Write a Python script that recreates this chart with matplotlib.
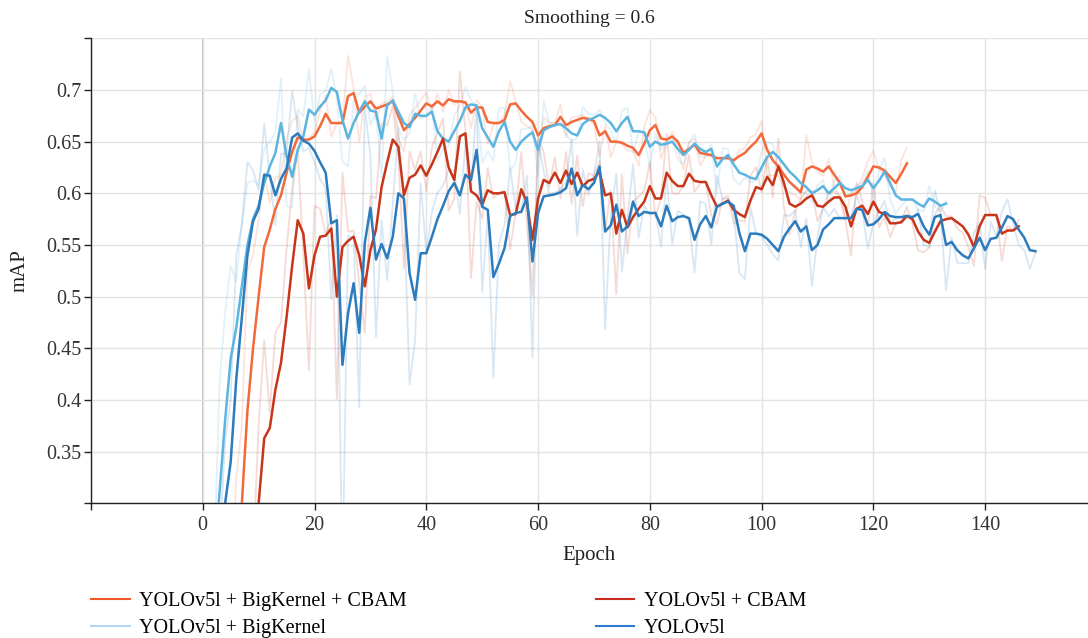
import numpy as np
import matplotlib
matplotlib.use("Agg")
import matplotlib.pyplot as plt
from matplotlib.lines import Line2D

SMOOTHING = 0.6

# smoothed mAP, one value per epoch
# (each list starts at the epoch given in *_start)
bk_cbam_start = 5
bk_cbam = [0.20, 0.25, 0.30, 0.39, 0.45, 0.50, 0.548, 0.565, 0.585, 0.598,
           0.620, 0.640, 0.654, 0.652, 0.652, 0.655, 0.665, 0.677, 0.668, 0.668,
           0.668, 0.694, 0.697, 0.678, 0.684, 0.689, 0.682, 0.684, 0.686, 0.689,
           0.675, 0.661, 0.667, 0.673, 0.680, 0.687, 0.684, 0.689, 0.685, 0.691,
           0.689, 0.689, 0.688, 0.678, 0.683, 0.683, 0.669, 0.668, 0.668, 0.671,
           0.686, 0.687, 0.680, 0.674, 0.669, 0.656, 0.663, 0.665, 0.666, 0.674,
           0.666, 0.669, 0.671, 0.673, 0.672, 0.670, 0.656, 0.660, 0.650, 0.650,
           0.649, 0.646, 0.644, 0.637, 0.648, 0.661, 0.666, 0.653, 0.652, 0.655,
           0.650, 0.639, 0.643, 0.647, 0.639, 0.638, 0.637, 0.634, 0.634, 0.634,
           0.632, 0.636, 0.639, 0.645, 0.650, 0.658, 0.642, 0.632, 0.626, 0.618,
           0.611, 0.606, 0.601, 0.623, 0.626, 0.624, 0.621, 0.626, 0.618, 0.610,
           0.597, 0.598, 0.600, 0.606, 0.616, 0.626, 0.625, 0.622, 0.616, 0.610,
           0.619, 0.629]

bk_start = 2
bk = [0.24, 0.31, 0.38, 0.44, 0.47, 0.51, 0.55, 0.575, 0.588, 0.610,
      0.626, 0.639, 0.668, 0.636, 0.616, 0.642, 0.655, 0.681, 0.676, 0.684,
      0.690, 0.702, 0.698, 0.671, 0.653, 0.668, 0.679, 0.689, 0.680, 0.679,
      0.653, 0.685, 0.690, 0.679, 0.668, 0.664, 0.677, 0.675, 0.675, 0.679,
      0.660, 0.653, 0.650, 0.660, 0.670, 0.683, 0.686, 0.685, 0.663, 0.654,
      0.645, 0.660, 0.669, 0.650, 0.642, 0.650, 0.655, 0.659, 0.642, 0.661,
      0.664, 0.666, 0.667, 0.663, 0.658, 0.656, 0.667, 0.671, 0.673, 0.676,
      0.673, 0.668, 0.660, 0.668, 0.674, 0.660, 0.660, 0.659, 0.645, 0.650,
      0.647, 0.648, 0.650, 0.643, 0.637, 0.642, 0.648, 0.643, 0.640, 0.643,
      0.626, 0.633, 0.637, 0.628, 0.620, 0.618, 0.615, 0.614, 0.625, 0.635,
      0.640, 0.635, 0.628, 0.621, 0.616, 0.610, 0.606, 0.600, 0.603, 0.607,
      0.600, 0.605, 0.610, 0.605, 0.603, 0.605, 0.607, 0.613, 0.605, 0.612,
      0.621, 0.610, 0.598, 0.594, 0.594, 0.594, 0.590, 0.587, 0.595, 0.592,
      0.588, 0.590]

cbam_start = 9
cbam = [0.25, 0.30, 0.363, 0.373, 0.41, 0.436, 0.48, 0.530, 0.574, 0.561,
        0.508, 0.540, 0.558, 0.559, 0.566, 0.500, 0.548, 0.554, 0.558, 0.540,
        0.510, 0.545, 0.565, 0.606, 0.630, 0.652, 0.645, 0.598, 0.615, 0.618,
        0.627, 0.617, 0.628, 0.640, 0.653, 0.625, 0.613, 0.655, 0.658, 0.602,
        0.598, 0.589, 0.603, 0.600, 0.600, 0.601, 0.579, 0.580, 0.604, 0.591,
        0.555, 0.595, 0.613, 0.610, 0.620, 0.610, 0.622, 0.609, 0.620, 0.607,
        0.612, 0.614, 0.621, 0.598, 0.600, 0.561, 0.584, 0.567, 0.577, 0.585,
        0.592, 0.607, 0.595, 0.595, 0.620, 0.612, 0.607, 0.607, 0.619, 0.612,
        0.611, 0.611, 0.598, 0.587, 0.590, 0.593, 0.584, 0.580, 0.577, 0.593,
        0.606, 0.604, 0.616, 0.608, 0.626, 0.610, 0.590, 0.587, 0.590, 0.595,
        0.598, 0.588, 0.587, 0.592, 0.596, 0.596, 0.587, 0.568, 0.585, 0.588,
        0.580, 0.592, 0.582, 0.580, 0.571, 0.571, 0.572, 0.578, 0.575, 0.563,
        0.555, 0.552, 0.563, 0.573, 0.575, 0.576, 0.572, 0.568, 0.560, 0.548,
        0.568, 0.579, 0.579, 0.579, 0.561, 0.564, 0.564, 0.568]

base_start = 3
base = [0.26, 0.30, 0.34, 0.42, 0.48, 0.54, 0.573, 0.585, 0.618, 0.617,
        0.598, 0.614, 0.624, 0.654, 0.658, 0.651, 0.648, 0.641, 0.630, 0.620,
        0.571, 0.574, 0.434, 0.484, 0.513, 0.465, 0.552, 0.586, 0.536, 0.551,
        0.537, 0.558, 0.600, 0.595, 0.523, 0.497, 0.542, 0.542, 0.558, 0.575,
        0.588, 0.602, 0.610, 0.598, 0.618, 0.613, 0.642, 0.587, 0.584, 0.519,
        0.532, 0.547, 0.578, 0.581, 0.582, 0.596, 0.534, 0.581, 0.597, 0.598,
        0.599, 0.601, 0.605, 0.624, 0.598, 0.608, 0.604, 0.610, 0.626, 0.563,
        0.569, 0.589, 0.563, 0.568, 0.592, 0.578, 0.582, 0.581, 0.581, 0.568,
        0.588, 0.573, 0.577, 0.578, 0.576, 0.555, 0.570, 0.578, 0.567, 0.587,
        0.590, 0.592, 0.588, 0.562, 0.544, 0.561, 0.561, 0.560, 0.556, 0.550,
        0.544, 0.558, 0.566, 0.573, 0.563, 0.568, 0.545, 0.550, 0.565, 0.570,
        0.576, 0.576, 0.576, 0.576, 0.585, 0.584, 0.569, 0.570, 0.575, 0.582,
        0.578, 0.577, 0.577, 0.578, 0.577, 0.580, 0.568, 0.560, 0.577, 0.579,
        0.550, 0.553, 0.545, 0.540, 0.537, 0.547, 0.557, 0.545, 0.556, 0.557,
        0.567, 0.578, 0.575, 0.565, 0.557, 0.545, 0.544]

labels = ["YOLOv5l + BigKernel + CBAM", "YOLOv5l + BigKernel", "YOLOv5l + CBAM", "YOLOv5l"]
line_colors = ["#f4693a", "#5cb4e0", "#c8361a", "#2c7bbd"]
legend_colors = ["#f05a28", "#b5d6f2", "#cc2a1e", "#2f7ad0"]

x_ticks = [-20, 0, 20, 40, 60, 80, 100, 120, 140]
y_ticks = [0.30, 0.35, 0.40, 0.45, 0.50, 0.55, 0.60, 0.65, 0.70, 0.75]


def unsmooth(s, w):
    # undo tensorboard's exponential smoothing to get the faint raw curve back
    s = np.asarray(s, dtype=float)
    raw = s.copy()
    raw[1:] = (s[1:] - w * s[:-1]) / (1 - w)
    return raw


plt.rcParams['font.family'] = ['Liberation Serif', 'DejaVu Serif']

fig = plt.figure(figsize=(10.88, 6.38), dpi=100)
ax = fig.add_axes([0.0836, 0.211, 0.9164, 0.729])

series = [(bk_cbam_start, bk_cbam), (bk_start, bk), (cbam_start, cbam), (base_start, base)]

# faint raw curves first, smoothed curves on top
for (start, vals), c in zip(series, line_colors):
    ep = np.arange(start, start + len(vals))
    ax.plot(ep, unsmooth(vals, SMOOTHING), color=c, alpha=0.18, lw=1.3, zorder=2)
for (start, vals), c in zip(series, line_colors):
    ep = np.arange(start, start + len(vals))
    ax.plot(ep, vals, color=c, lw=1.8, zorder=3)

ax.set_xlim(-20, 158.4)
ax.set_ylim(0.30, 0.75)
ax.set_xticks(x_ticks)
ax.set_xticklabels(["" if t < 0 else str(t) for t in x_ticks])
ax.set_yticks(y_ticks)
ax.set_yticklabels(["" if t in (0.30, 0.75) else f"{t:g}" for t in y_ticks])

ax.grid(True, color="#e3e3e3", lw=1.0, zorder=0)
ax.axvline(0, color="#b4b4b4", lw=1.2, zorder=1)

for side in ["top", "right"]:
    ax.spines[side].set_visible(False)
for side in ["left", "bottom"]:
    ax.spines[side].set_color("#222222")
    ax.spines[side].set_linewidth(1.0)
ax.tick_params(direction="out", length=5, width=1, colors="#222222",
               labelcolor="#333333", labelsize=14.5)
ax.tick_params(axis="y", pad=2)
ax.tick_params(axis="x", pad=4)

ax.set_xlabel("Epoch", fontsize=15, color="#222222", labelpad=8)
ax.set_ylabel("mAP", fontsize=15, color="#222222", labelpad=12)
ax.set_title("Smoothing = 0.6", fontsize=14, color="#222222", pad=11)

handles = [Line2D([], [], color=c, lw=1.5) for c in legend_colors]
leg_kw = dict(loc="upper left", frameon=False, fontsize=14.5, handlelength=1.9,
              handletextpad=0.45, labelspacing=0.4, borderpad=0, borderaxespad=0)
leg_top = 1 - 592 / 638
fig.legend(handles[:2], labels[:2], bbox_to_anchor=(0.084, leg_top), **leg_kw)
fig.legend(handles[2:], labels[2:], bbox_to_anchor=(0.548, leg_top), **leg_kw)

fig.savefig("out.png", dpi=100)
